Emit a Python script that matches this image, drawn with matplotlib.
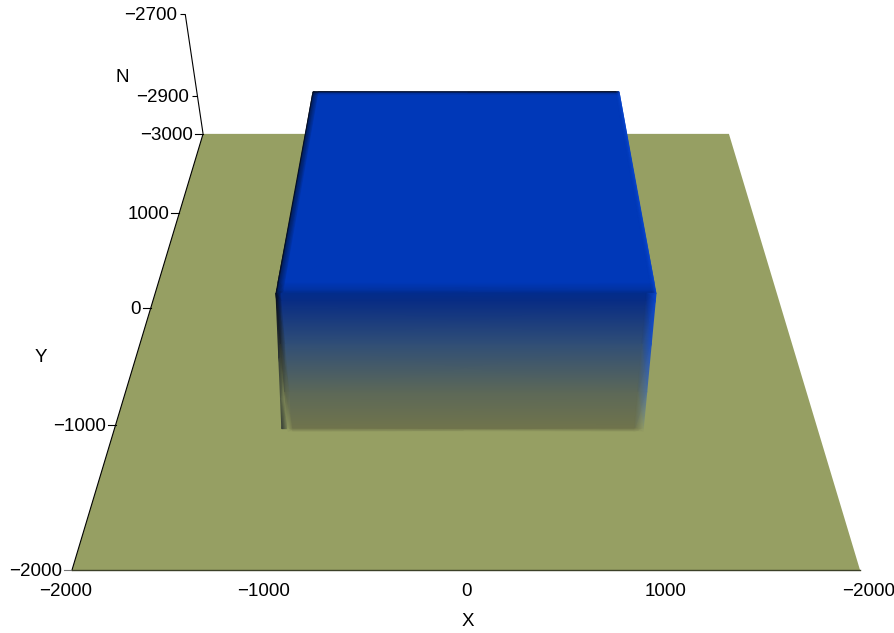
import matplotlib
matplotlib.use("Agg")
import matplotlib.pyplot as plt
from matplotlib.colors import to_rgb
import numpy as np

plt.rcParams['font.family'] = ['Liberation Sans', 'DejaVu Sans']

# plate and block, in chart units
plate_x = [-2000, 2000, 2000, -2000]
plate_y = [-2000, -2000, 2000, 2000]
plate_z = -3000
block_x = [-1000, 1000]
block_y = [-980, 1035]
block_foot_y = -1050
block_foot_x = [-1010, 1005]
block_top = -2715

# axis ticks
x_ticks = [-2000, -1000, 0, 1000, 2000]
x_tick_labels = ["\u22122000", "\u22121000", "0", "1000", "\u22122000"]
x_label_shift = [-6, -5, 0, 3, 9]
y_ticks = [-2000, -1000, 0, 1000, 2000]
y_tick_labels = ["\u22122000", "\u22121000", "0", "1000", "\u22123000"]
z_ticks = [-2900, -2700]
z_tick_labels = ["\u22122900", "\u22122700"]

plate_color = "#969f63"
top_color = np.array([0, 56, 184]) / 255
top_edge_color = np.array([2, 44, 140]) / 255
black = np.array([4, 12, 30]) / 255
side_blue = np.array([10, 70, 205]) / 255
# colours going down the front face, the last stop is the soft foot
front_stops = [0, 0.05, 0.35, 0.7, 0.98, 1.03]
front_colors = np.array([[2, 44, 140], [8, 44, 132], [48, 78, 118], [92, 104, 88], [112, 116, 76], [150, 159, 99]]) / 255


def project(x, y, z):
    # simple pinhole camera fitted on the plate corners
    x = np.asarray(x, float)
    t = (np.asarray(y, float) + 2000) / 4000
    h = np.asarray(z, float) + 3000
    w = 1 + 0.4985 * t - 0.000317 * h
    return 466 + 0.197 * x / w, -741 + (1311 - 0.837 * h) / w


def mesh(ax, xs, ys, zs, colors):
    # xs, ys, zs are 2D node arrays, colors the node colours
    px, py = project(xs, ys, zs)
    ax.pcolormesh(px, py, colors, shading='gouraud', zorder=3, rasterized=True)


def mix(a, b, f):
    return np.asarray(a) * (1 - f) + np.asarray(b) * f


fig = plt.figure(figsize=(8.94, 6.33), dpi=100)
ax = fig.add_axes([0, 0, 1, 1])
ax.set_xlim(0, 894)
ax.set_ylim(633, 0)
ax.axis('off')

# plate
px, py = project(plate_x, plate_y, plate_z)
ax.fill(px, py, color=plate_color, lw=0, zorder=1)

x0, x1 = block_x
y0, y1 = block_y
olive = np.array(to_rgb(plate_color))

# left wall first, so the front face sits over it
fr = np.array([0, 0.45, 0.75, 0.98])
Xs = np.stack([x0 + (block_foot_x[0] - 35 - x0) * fr, x0 + (block_foot_x[0] - 10 - x0) * fr + 14], axis=1)
Ys = np.tile((y0 + (block_foot_y - y0) * fr)[:, None], (1, 2))
Zs = np.tile((block_top + (plate_z - block_top) * fr)[:, None], (1, 2))
outer = np.array([black, mix(black, olive, 0.3), mix(black, olive, 0.55), mix(black, olive, 0.3)])
inner = np.array([black, mix(black, olive, 0.45), mix(black, olive, 0.95), mix(black, olive, 0.95)])
mesh(ax, Xs, Ys, Zs, np.stack([outer, inner], axis=1))

# top face with darker rims
gx = np.array([x0, x0 + 8, x0 + 40, x1 - 20, x1 - 6, x1])
gy = np.array([y0, y0 + 25, y0 + 90, y1 - 40, y1 - 12, y1])
X, Y = np.meshgrid(gx, gy)
C = np.zeros(X.shape + (3,))
for j in range(len(gy)):
    for i in range(len(gx)):
        c = top_color
        if j == 0:
            c = top_edge_color
        if j == 1:
            c = mix(top_color, top_edge_color, 0.6)
        if j == 5:
            c = black
        if j == 4:
            c = mix(top_color, black, 0.25)
        if i == 0:
            c = mix(c, black, 1.0)
        if i == 1:
            c = mix(c, black, 0.55)
        if i == 5:
            c = mix(c, side_blue, 1.0)
        if i == 4:
            c = mix(c, side_blue, 0.5)
        C[j, i] = c
mesh(ax, X, Y, np.full(X.shape, block_top), C)

# front face
fr = np.array(front_stops)
nz = len(fr)
left = x0 + (block_foot_x[0] - x0) * fr
right = x1 + (block_foot_x[1] - x1) * fr
X = np.stack([left, left + 28, right - 50, right], axis=1)
Y = np.tile((y0 + (block_foot_y - y0) * fr)[:, None], (1, 4))
Z = np.tile(np.maximum(block_top + (plate_z - block_top) * fr, plate_z)[:, None], (1, 4))
C = np.zeros(X.shape + (3,))
for j in range(nz):
    base = front_colors[j]
    edge = mix(black, olive, min(fr[j], 1) ** 1.5)
    C[j] = [edge, base, base, mix(side_blue, olive, min(fr[j], 1) ** 2.0)]
mesh(ax, X, Y, Z, C)

# axes
line = dict(color="black", lw=0.8, zorder=5, solid_capstyle='butt')
tx, ty = project([x_ticks[0], x_ticks[-1]], [-2000, -2000], [plate_z, plate_z])
ax.plot(tx, ty, color="#3c4028", lw=1.0, zorder=5)
lx, ly = project([-2000, -2000], [-2000, 2000], [plate_z, plate_z])
ax.plot(lx, ly, **line)
lx, ly = project([-2000, -2000], [2000, 2000], [plate_z, -2700])
ax.plot(lx, ly, **line)

for v, s, off in zip(x_ticks, x_tick_labels, x_label_shift):
    px, py = project(v, -2000, plate_z)
    ax.text(px + off, 592, s, ha='center', va='center', fontsize=13.5, color="black", zorder=6)

for v, s in zip(y_ticks, y_tick_labels):
    px, py = project(-2000, v, plate_z)
    ax.plot([px - 8, px], [py, py], color="#777777" if v == -2000 else "black", lw=0.8, zorder=4)
    ax.text(px - 10, py + 1.5, s, ha='right', va='center', fontsize=13.5, color="black", zorder=6)

for v, s in zip(z_ticks, z_tick_labels):
    px, py = project(-2000, 2000, v)
    ax.plot([px - 5, px], [py, py], **line)
    ax.text(px - 8, py + 1.5, s, ha='right', va='center', fontsize=13.5, color="black", zorder=6)

ax.text(468, 622, "X", ha='center', va='center', fontsize=13.5, color="black")
ax.text(41, 357, "Y", ha='center', va='center', fontsize=13.5, color="black")
ax.text(122, 78, "N", ha='center', va='center', fontsize=13.5, color="black")

fig.savefig("out.png", dpi=100)
